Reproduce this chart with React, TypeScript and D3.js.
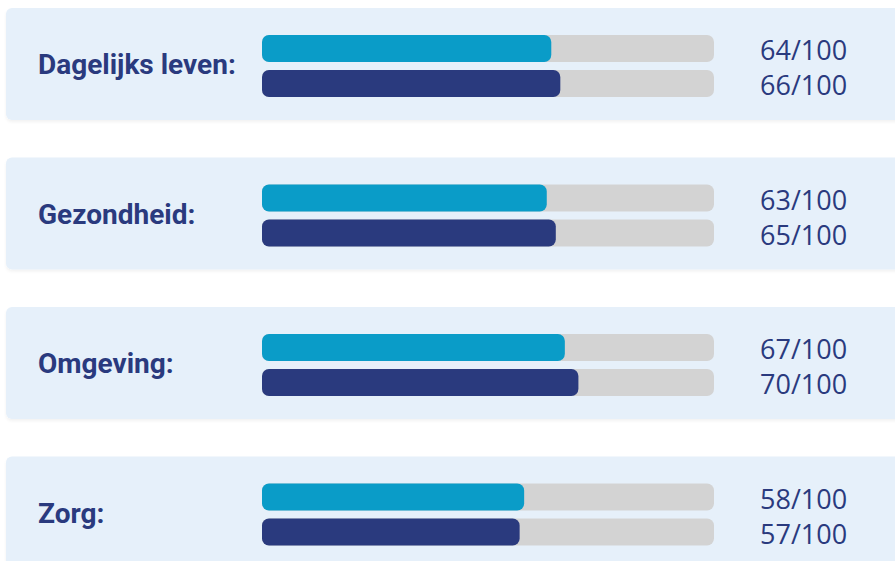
import React from "react";
import * as d3 from "d3";

const categories = ["Dagelijks leven:", "Gezondheid:", "Omgeving:", "Zorg:"];
const seriesA = [64, 63, 67, 58];
const seriesB = [66, 65, 70, 57];
const maxValue = 100;

const W = 895;
const H = 561;

export default function App() {
  const yBand = d3
    .scaleBand<string>()
    .domain(categories)
    .range([8, 8 + 3 * 149.5 + 112])
    .paddingInner(37.5 / 149.5)
    .paddingOuter(0);
  const x = d3.scaleLinear().domain([0, maxValue]).range([262, 714]);
  const bw = yBand.bandwidth();
  const barH = 27;
  const navy = "#2a3a7e";
  const cyan = "#0a9cc8";

  return (
    <svg
      width={W}
      height={H}
      style={{ position: "absolute", left: 0, top: 0, background: "#fff" }}
    >
      <defs>
        <filter id="sh" x="-5%" y="-20%" width="110%" height="140%">
          <feDropShadow dx="0" dy="2" stdDeviation="1.5" floodColor="#000" floodOpacity="0.05" />
        </filter>
      </defs>
      {categories.map((c, i) => {
        const y0 = yBand(c)!;
        const series = [seriesA[i], seriesB[i]];
        return (
          <g key={c}>
            <rect x={6} y={y0} width={W + 10} height={bw} rx={6} fill="#e6f0fa" filter="url(#sh)" />
            <text
              x={38}
              y={y0 + bw / 2 + 10}
              fill={navy}
              fontFamily="Roboto, sans-serif"
              fontWeight={700}
              fontSize={28}
            >
              {c}
            </text>
            {series.map((v, j) => {
              const by = y0 + 27 + j * 35;
              return (
                <g key={j}>
                  <rect x={x(0)} y={by} width={x(maxValue) - x(0)} height={barH} rx={7} fill="#d3d3d3" />
                  <rect x={x(0)} y={by} width={x(v) - x(0)} height={barH} rx={7} fill={j === 0 ? cyan : navy} />
                  <text
                    x={760}
                    y={by + 25}
                    fill={navy}
                    fontFamily="'Open Sans', sans-serif"
                    fontSize={27}
                  >
                    {`${v}/${maxValue}`}
                  </text>
                </g>
              );
            })}
          </g>
        );
      })}
    </svg>
  );
}
